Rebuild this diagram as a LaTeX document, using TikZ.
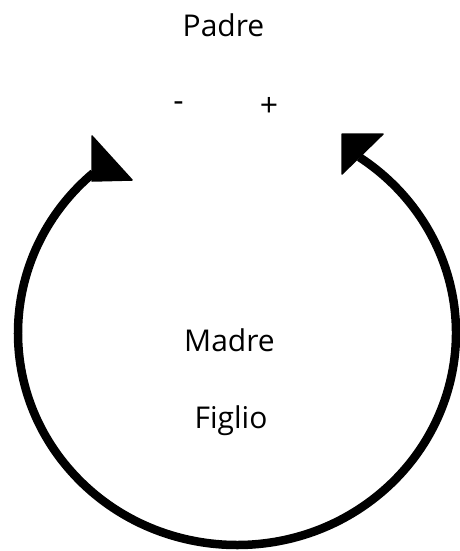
\documentclass[tikz,border=0pt]{standalone}
\usepackage{fontspec}
\setmainfont{Open Sans}
\begin{document}
\begin{tikzpicture}[x=1pt,y=-1pt,
  lbl/.style={inner sep=0pt, anchor=base, font=\fontsize{30}{36}\selectfont},
  sgn/.style={inner sep=0pt, anchor=center, font=\fontsize{32}{36}\selectfont},
  loopline/.style={line width=8.5pt, line cap=butt},
  headfill/.style={fill=black, draw=black, line width=1.5pt, line join=round}]
\useasboundingbox (0,0) rectangle (460,551);
\node[lbl] (padre) at (223.5,37) {Padre};
\node[sgn] (minus) at (178.5,107) {-};
\node[sgn] (plus) at (269,107) {+};
\node[lbl] (madre) at (229.5,351) {Madre};
\node[lbl] (figlio) at (231,428) {Figlio};
\coordinate (ctr) at (237,333);
\draw[loopline] ([shift={(229:219 and 212)}]ctr) arc[start angle=229, end angle=-56, x radius=219, y radius=212] coordinate (rend);
\filldraw[headfill] (92,136) -- (92,181) -- (132,180) -- cycle;
\filldraw[headfill] (342,134) -- (383,134) -- (342,174) -- cycle;
\end{tikzpicture}
\end{document}
